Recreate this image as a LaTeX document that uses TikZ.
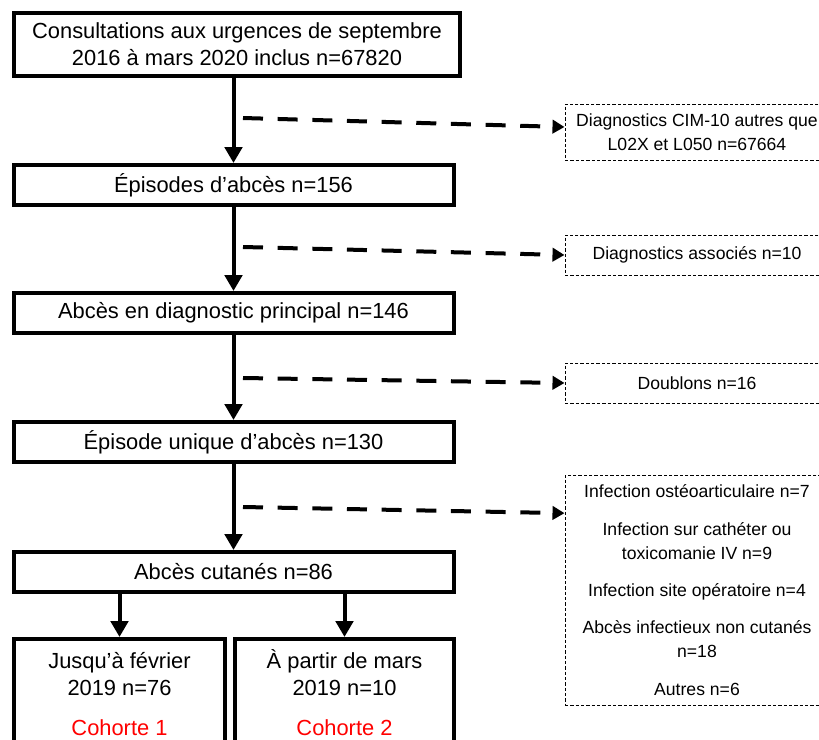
\documentclass[tikz,border=0pt]{standalone}
\usepackage{fontspec}
\setmainfont{Liberation Sans}
\usetikzlibrary{arrows.meta}
\tikzstyle{stage}=[draw, line width=3pt, minimum width=330pt, minimum height=30pt, align=center, inner sep=2pt, font=\fontsize{16.4}{20}\selectfont]
\tikzstyle{cohort}=[stage, minimum height=0pt, anchor=north, inner ysep=7pt, text height=65.5pt, text depth=20pt]
\tikzstyle{excluded}=[draw, line width=0.75pt, dash pattern=on 2.5pt off 1.5pt, minimum width=198pt, align=center, font=\fontsize{13.2}{18}\selectfont]
\tikzstyle{flow}=[line width=3pt, -{Triangle[length=12pt, width=13pt]}]
\tikzstyle{exclusion}=[line width=3pt, dash pattern=on 15pt off 11pt, -{Triangle[length=9pt, width=10pt]}]

\begin{document}
\begin{tikzpicture}[x=0.75pt, y=-0.75pt]
      \clip (0, 0) rectangle (819, 740);
      \node[stage, minimum width=334pt, minimum height=47pt] (consult) at (237, 44.5)
        {Consultations aux urgences de septembre\\2016 à mars 2020 inclus n=67820};
      \node[stage] (episodes) at (233.5, 185) {Épisodes d’abcès n=156};
      \node[stage] (principal) at (233.5, 313) {Abcès en diagnostic principal n=146};
      \node[stage] (unique) at (233.5, 442) {Épisode unique d’abcès n=130};
      \node[stage] (cutanes) at (233.5, 572) {Abcès cutanés n=86};
      \node[cohort, minimum width=158pt] (coh1) at (119.5, 637)
        {Jusqu’à février\\2019 n=76\\[10.5pt]\textcolor{red}{Cohorte 1}};
      \node[cohort, minimum width=164pt] (coh2) at (344.5, 637)
        {À partir de mars\\2019 n=10\\[10.5pt]\textcolor{red}{Cohorte 2}};
      \node[excluded, minimum height=42pt] (cim) at (697, 132)
        {Diagnostics CIM-10 autres que\\L02X et L050 n=67664};
      \node[excluded, minimum height=30pt] (assoc) at (697, 255) {Diagnostics associés n=10};
      \node[excluded, minimum height=30pt] (doublons) at (697, 383) {Doublons n=16};
      \node[excluded, minimum height=172.5pt] (autres) at (697, 590)
        {Infection ostéoarticulaire n=7\\[10pt]
         Infection sur cathéter ou\\toxicomanie IV n=9\\[10pt]
         Infection site opératoire n=4\\[10pt]
         Abcès infectieux non cutanés\\n=18\\[10pt]
         Autres n=6};
      \coordinate (e1) at (243, 118);
      \coordinate (e2) at (243, 247);
      \coordinate (e3) at (243, 378);
      \coordinate (e4) at (243, 507);
      \draw[flow] (consult.south -| episodes.north) -- (episodes.north);
      \draw[flow] (episodes.south) -- (principal.north);
      \draw[flow] (principal.south) -- (unique.north);
      \draw[flow] (unique.south) -- (cutanes.north);
      \draw[flow] (cutanes.south -| coh1.north) -- (coh1.north);
      \draw[flow] (cutanes.south -| coh2.north) -- (coh2.north);
      \draw[exclusion] (e1) -- ([yshift=3.75pt]cim.west);
      \draw[exclusion] (e2) -- (assoc.west);
      \draw[exclusion] (e3) -- (doublons.west);
      \draw[exclusion] (e4) -- ([yshift=-29pt]autres.north west);
    \end{tikzpicture}
\end{document}
